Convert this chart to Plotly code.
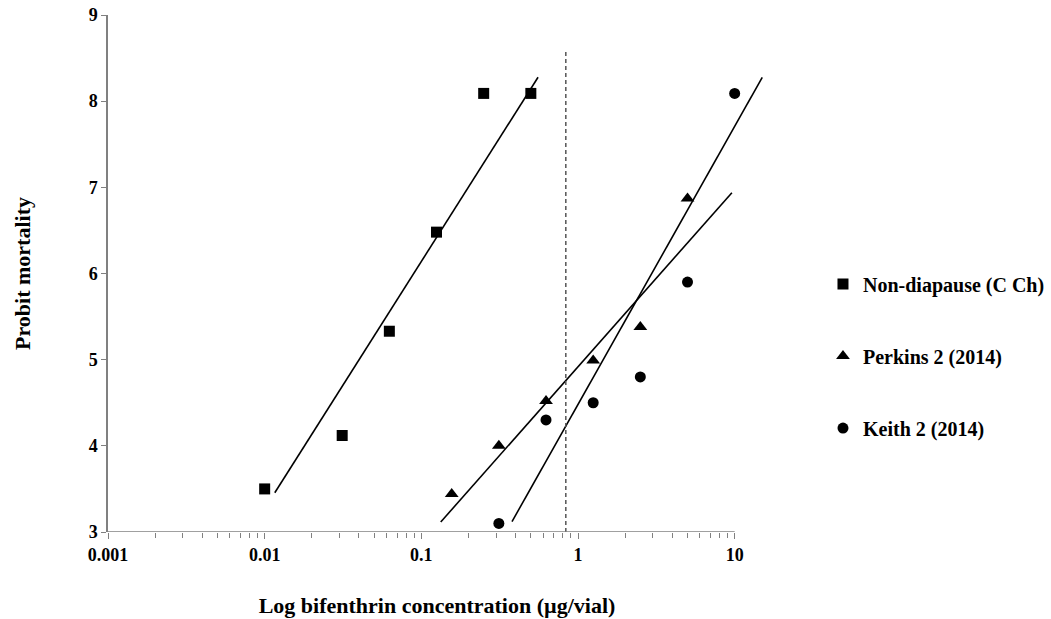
import plotly.graph_objects as go

# ---- data ----
series_names = ["Non-diapause (C Ch)", "Perkins 2 (2014)", "Keith 2 (2014)"]
symbols = ["square", "triangle-up", "circle"]

nd_x = [0.01, 0.03125, 0.0625, 0.125, 0.25, 0.5]
nd_y = [3.50, 4.12, 5.33, 6.48, 8.09, 8.09]

pk_x = [0.15625, 0.3125, 0.625, 1.25, 2.5, 5.0]
pk_y = [3.44, 4.00, 4.52, 4.99, 5.38, 6.87]

kt_x = [0.3125, 0.625, 1.25, 2.5, 5.0, 10.0]
kt_y = [3.10, 4.30, 4.50, 4.80, 5.90, 8.09]

# fitted regression lines (endpoints)
nd_fit_x = [0.0116, 0.556]
nd_fit_y = [3.456, 8.277]
pk_fit_x = [0.133, 9.6]
pk_fit_y = [3.116, 6.938]
kt_fit_x = [0.379, 15.0]
kt_fit_y = [3.12, 8.277]

ref_x = [0.836, 0.836]
ref_y = [3.0, 8.58]

x_tickvals = [0.001, 0.01, 0.1, 1, 10]
x_ticktext = ["0.001", "0.01", "0.1", "1", "10"]
y_tickvals = [3, 4, 5, 6, 7, 8, 9]

x_title = "Log bifenthrin concentration (µg/vial)"
y_title = "Probit mortality"

FONT = "Liberation Serif"
AXIS_COL = "#808080"

fig = go.Figure()

pts = [(nd_x, nd_y), (pk_x, pk_y), (kt_x, kt_y)]
fits = [(nd_fit_x, nd_fit_y), (pk_fit_x, pk_fit_y), (kt_fit_x, kt_fit_y)]

for i in range(len(series_names)):
    fx, fy = fits[i]
    fig.add_trace(go.Scatter(x=fx, y=fy, mode="lines",
                             line=dict(color="black", width=1.6),
                             showlegend=False, hoverinfo="skip"))
for i, (name, sym) in enumerate(zip(series_names, symbols)):
    px_, py_ = pts[i]
    fig.add_trace(go.Scatter(x=px_, y=py_, mode="markers", name=name,
                             legendgroup=f"g{i}",
                             marker=dict(symbol=sym, size=11 if sym != "triangle-up" else 12,
                                         color="black")))

# vertical dashed reference line
fig.add_trace(go.Scatter(x=ref_x, y=ref_y, mode="lines",
                         line=dict(color="#555555", width=1.5, dash="4px,3px"),
                         showlegend=False, hoverinfo="skip"))

# x axis line only from 0.001 to 10
fig.add_shape(type="line", xref="x", yref="y",
              x0=x_tickvals[0], x1=x_tickvals[-1], y0=3, y1=3,
              line=dict(color=AXIS_COL, width=1.5), layer="above")

minor_vals = [m * d for d in [0.001, 0.01, 0.1, 1] for m in range(2, 10)]

fig.update_layout(
    width=1051, height=619,
    margin=dict(l=108, r=285, t=15, b=87, autoexpand=False),
    paper_bgcolor="white", plot_bgcolor="white",
    font=dict(family=FONT, size=18, color="black", weight="bold"),
    showlegend=True,
    legend=dict(x=1.0866, xanchor="left", y=0.5172, yanchor="top",
                font=dict(family=FONT, size=20, color="black", weight="bold"),
                tracegroupgap=43, traceorder="grouped",
                bgcolor="rgba(0,0,0,0)", itemwidth=30),
    xaxis=dict(type="log", range=[-3, 1.2], automargin=False,
               tickmode="array", tickvals=x_tickvals, ticktext=x_ticktext,
               ticks="outside", ticklen=6, tickwidth=1.2, tickcolor=AXIS_COL,
               minor=dict(tickmode="array", tickvals=minor_vals, ticks="outside",
                          ticklen=5, tickwidth=1.2, tickcolor=AXIS_COL, showgrid=False),
               showline=False, showgrid=False, zeroline=False,
               tickfont=dict(family=FONT, size=18, weight="bold"),
               title=dict(text=x_title, standoff=34,
                          font=dict(family=FONT, size=22, weight="bold"))),
    yaxis=dict(range=[3, 9], tickmode="array", tickvals=y_tickvals, automargin=False,
               ticks="outside", ticklen=5, tickwidth=1.2, tickcolor=AXIS_COL,
               showline=True, linecolor=AXIS_COL, linewidth=1.5,
               showgrid=False, zeroline=False,
               tickfont=dict(family=FONT, size=18, weight="bold"),
               title=dict(text=y_title, standoff=52,
                          font=dict(family=FONT, size=22, weight="bold"))),
)

fig.write_html("out.html", config={"displayModeBar": False},
               post_script="document.body.style.margin='0';document.body.style.overflow='hidden';")
